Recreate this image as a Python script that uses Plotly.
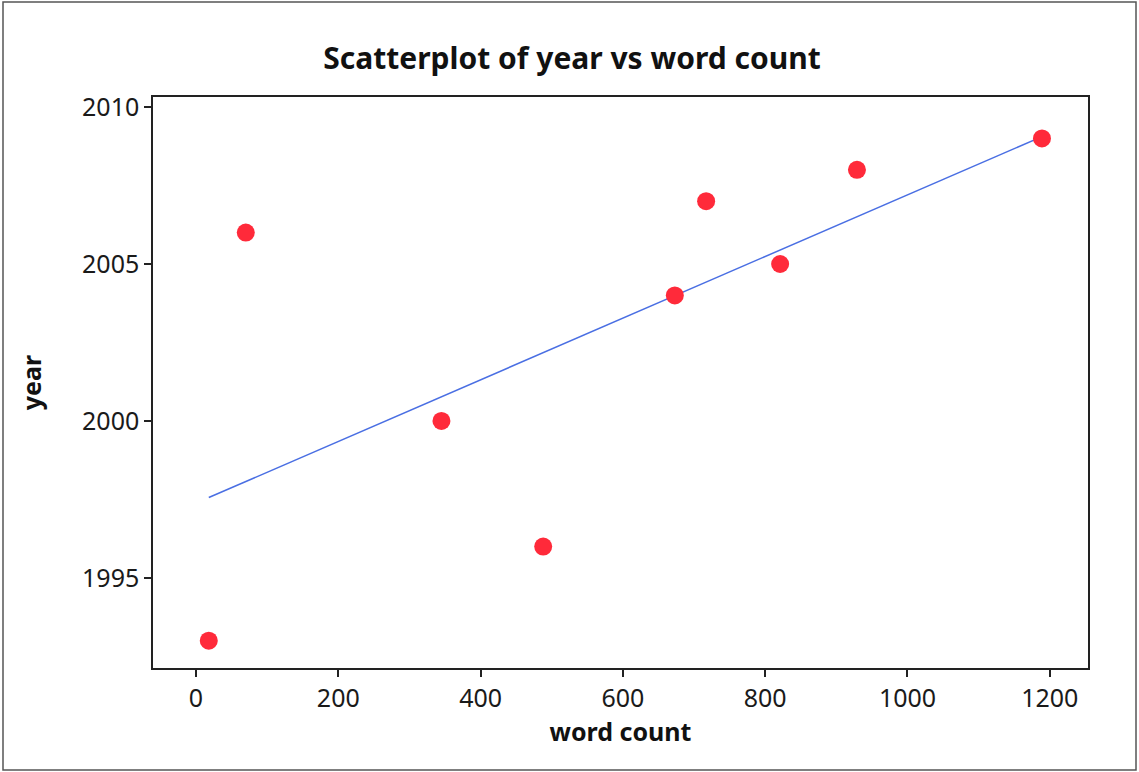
import numpy as np
import plotly.graph_objects as go

word_count = [18, 70, 345, 488, 673, 717, 821, 929, 1189]
year = [1993, 2006, 2000, 1996, 2004, 2007, 2005, 2008, 2009]
x_ticks = [0, 200, 400, 600, 800, 1000, 1200]
y_ticks = [1995, 2000, 2005, 2010]

slope, intercept = np.polyfit(word_count, year, 1)
fit_x = [min(word_count), max(word_count)]
fit_y = [slope * v + intercept for v in fit_x]

W, H = 1139, 772
L, R, T, B = 153, 1088, 97, 668
pw, ph = R - L, B - T

def px(v):
    return (v - L) / pw

def py(v):
    return (B - v) / ph

FONT = "Noto Sans"

fig = go.Figure()
fig.add_trace(go.Scatter(x=fit_x, y=fit_y, mode="lines",
                         line=dict(color="#4a6fe3", width=1.5), showlegend=False))
fig.add_trace(go.Scatter(x=word_count, y=year, mode="markers",
                         marker=dict(color="#ff2a3a", size=18, line=dict(width=0)),
                         showlegend=False))

fig.update_layout(
    width=W, height=H,
    margin=dict(l=L, r=W - R, t=T, b=H - B),
    paper_bgcolor="white", plot_bgcolor="white",
    font=dict(family=FONT, color="#1a1a1a"),
    title=dict(text="<b>Scatterplot of year vs word count</b>", xref="paper",
               x=(572 - L) / pw,
               y=1 - 58 / H, yref="container", yanchor="middle", xanchor="center",
               font=dict(family=FONT, size=30, color="#111")),
    xaxis=dict(range=[-60.4, 1253.7], tickvals=x_ticks, ticks="outside", ticklen=7,
               tickwidth=1.5, tickcolor="#222", showgrid=False, zeroline=False,
               showline=True, linecolor="#222", linewidth=1.5, mirror=True,
               tickfont=dict(size=25, family=FONT, color="#1a1a1a"),
               title=dict(text="<b>word count</b>", standoff=6,
                          font=dict(size=25, family=FONT, color="#111"))),
    yaxis=dict(range=[1992.13, 2010.32], tickvals=y_ticks, ticks="outside", ticklen=7,
               tickwidth=1.5, tickcolor="#222", showgrid=False, zeroline=False,
               showline=True, linecolor="#222", linewidth=1.5, mirror=True,
               tickfont=dict(size=25, family=FONT, color="#1a1a1a"),
               title=dict(text="<b>year</b>", standoff=33,
                          font=dict(size=25, family=FONT, color="#111"))),
)

fig.add_shape(type="rect", xref="paper", yref="paper",
              x0=px(3), x1=px(1136), y0=py(770), y1=py(2),
              line=dict(color="#555", width=1.5), layer="below")

fig.write_html("out.html", config={"displayModeBar": False})

with open("out.html", "r", encoding="utf-8") as f:
    html = f.read()
html = html.replace("<body>", '<body style="margin:0;padding:0;overflow:hidden">', 1)
with open("out.html", "w", encoding="utf-8") as f:
    f.write(html)
